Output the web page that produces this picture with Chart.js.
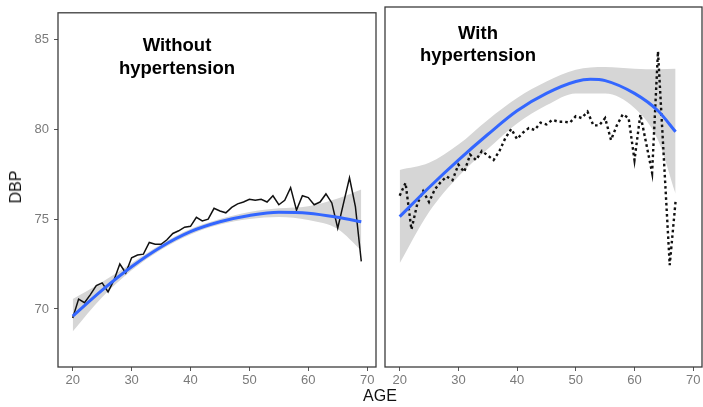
<!DOCTYPE html>
<html>
<head>
<meta charset="utf-8">
<script src="https://cdn.jsdelivr.net/npm/chart.js@4.4.0/dist/chart.umd.min.js"></script>
<style>
  html, body { margin:0; padding:0; background:#fff; }
  body { width:703px; height:407px; position:relative; overflow:hidden; font-family:"Liberation Sans", Arial, sans-serif; }
  canvas { position:absolute; top:0; }
  .ttl { position:absolute; font-weight:bold; font-size:18.5px; line-height:22.5px; color:#000; text-align:center; width:200px; }
  .axt { position:absolute; font-size:16px; color:#111; white-space:nowrap; }
</style>
</head>
<body>
<canvas id="left" width="380" height="407" style="left:0;width:380px;height:407px"></canvas>
<canvas id="right" width="323" height="407" style="left:380px;width:323px;height:407px"></canvas>
<div class="ttl" style="left:77px;top:34px">Without<br>hypertension</div>
<div class="ttl" style="left:378px;top:21.5px">With<br>hypertension</div>
<div class="axt" id="age" style="left:380px;top:387px;transform:translateX(-50%)">AGE</div>
<div class="axt" id="dbp" style="left:16px;top:187px;transform:translate(-50%,-50%) rotate(-90deg)">DBP</div>
<script>
// ---- data ----
const xTicks = [20, 30, 40, 50, 60, 70];
const yTicks = [70, 75, 80, 85];

// Without hypertension: mean DBP by age
const agesNo = [20,21,22,23,24,25,26,27,28,29,30,31,32,33,34,35,36,37,38,39,40,41,42,43,44,45,46,47,48,49,50,51,52,53,54,55,56,57,58,59,60,61,62,63,64,65,66,67,68,69];
const dbpNo  = [69.5,70.55,70.35,70.8,71.3,71.45,70.95,71.6,72.5,72.0,72.85,73.0,73.05,73.7,73.6,73.6,73.85,74.2,74.35,74.55,74.6,75.1,74.9,75.0,75.6,75.45,75.35,75.65,75.85,75.95,76.1,76.05,76.1,75.95,76.3,75.8,76.05,76.75,75.5,76.3,76.2,75.8,75.95,76.4,75.9,74.5,75.9,77.3,75.7,72.65];
// smooth fit + confidence band (left)
const fitAgesNo = [20,25,30,35,40,45,50,55,60,65,69];
const fitNo     = [69.6,71.05,72.35,73.45,74.3,74.85,75.2,75.38,75.33,75.1,74.85];
const upperNo   = [70.55,71.5,72.55,73.6,74.45,75.0,75.4,75.6,75.72,76.15,76.65];
const lowerNo   = [68.75,70.65,72.15,73.3,74.15,74.7,75.0,75.12,74.95,74.45,73.25];

// With hypertension: mean DBP by age
const agesHt = [20,21,22,23,24,25,26,27,28,29,30,31,32,33,34,35,36,37,38,39,40,41,42,43,44,45,46,47,48,49,50,51,52,53,54,55,56,57,58,59,60,61,62,63,64,65,66,67];
const dbpHt  = [76.15,76.85,74.3,75.7,76.4,75.8,76.5,76.9,77.2,77.0,77.85,77.45,78.4,78.1,78.6,78.35,78.1,78.6,79.3,79.8,79.25,79.6,79.85,79.75,80.15,80.05,80.3,80.2,80.2,80.15,80.5,80.4,80.75,80.0,80.0,80.4,79.2,80.0,80.6,80.4,78.1,80.6,79.0,77.4,84.05,78.2,72.35,75.85];
// smooth fit + confidence band (right)
const fitAgesHt = [20,25,30,35,40,45,50,52.5,55,60,64,67];
const fitHt     = [75.0,76.6,78.1,79.5,80.8,81.75,82.4,82.52,82.45,81.75,80.8,79.65];
const bandAgesHt = [20,25,30,35,40,45,50,55,60,64,67];
const upperHt   = [77.56,77.95,78.95,80.3,81.5,82.4,83.05,83.2,83.1,83.07,83.1];
const lowerHt   = [72.45,75.25,77.2,78.7,80.1,81.1,81.75,81.75,80.95,79.2,76.25];

const X_MIN = 17.5, X_MAX = 71.5, Y_MIN = 66.77, Y_MAX = 86.48;

// ---- helpers ----
const pts = (xs, ys) => xs.map((x, i) => ({x: x, y: ys[i]}));
const TICK_COLOR = '#7a7a7a';
const FONT = {family: "'Liberation Sans', Arial, sans-serif", size: 13};

const frame = {
  id: 'frame',
  afterDraw(chart) {
    const a = chart.chartArea, c = chart.ctx;
    c.save();
    c.strokeStyle = '#3c3c3c';
    c.lineWidth = 1.3;
    c.strokeRect(a.left, a.top, a.right - a.left, a.bottom - a.top);
    c.restore();
  }
};

function makeChart(id, lineData, dashed, fitData, bandX, up, lo, showY, padding) {
  const smooth = { cubicInterpolationMode: 'monotone', pointRadius: 0 };
  const datasets = [
    Object.assign({ data: pts(fitData[0], fitData[1]), borderColor: '#3366ff', borderWidth: 3, fill: false, order: 0 }, smooth),
    { data: lineData, borderColor: '#111', borderWidth: dashed ? 2.4 : 1.5, borderDash: dashed ? [2.6, 3] : [], pointRadius: 0, tension: 0, fill: false, order: 1 },
    Object.assign({ data: pts(bandX, up), borderWidth: 0, borderColor: 'rgba(0,0,0,0)', fill: false, order: 3 }, smooth),
    Object.assign({ data: pts(bandX, lo), borderWidth: 0, borderColor: 'rgba(0,0,0,0)', backgroundColor: '#d6d6d6', fill: '-1', order: 2 }, smooth)
  ];
  return new Chart(document.getElementById(id), {
    type: 'line',
    data: { datasets },
    options: {
      responsive: false, animation: false, devicePixelRatio: 1,
      layout: { padding: padding },
      plugins: { legend: { display: false }, tooltip: { enabled: false } },
      scales: {
        x: {
          type: 'linear', min: X_MIN, max: X_MAX,
          afterBuildTicks: s => { s.ticks = xTicks.map(v => ({value: v})); },
          afterFit: s => { s.height = 40; },
          grid: { drawOnChartArea: false, drawTicks: true, tickLength: 4, color: '#555' },
          border: { display: false },
          ticks: { color: TICK_COLOR, font: FONT, padding: 2, maxRotation: 0, autoSkip: false }
        },
        y: {
          type: 'linear', min: Y_MIN, max: Y_MAX, display: showY,
          afterBuildTicks: s => { s.ticks = yTicks.map(v => ({value: v})); },
          afterFit: s => { s.width = showY ? 58 : 0; },
          grid: { drawOnChartArea: false, drawTicks: true, tickLength: 4, color: '#555' },
          border: { display: false },
          ticks: { color: TICK_COLOR, font: FONT, padding: 5 }
        }
      }
    },
    plugins: [frame]
  });
}

makeChart('left', pts(agesNo, dbpNo), false, [fitAgesNo, fitNo], fitAgesNo, upperNo, lowerNo, true, {top: 7, right: 4, bottom: 0, left: 0});
makeChart('right', pts(agesHt, dbpHt), true, [fitAgesHt, fitHt], bandAgesHt, upperHt, lowerHt, false, {top: 7, right: 1, bottom: 0, left: 5});
</script>
</body>
</html>
